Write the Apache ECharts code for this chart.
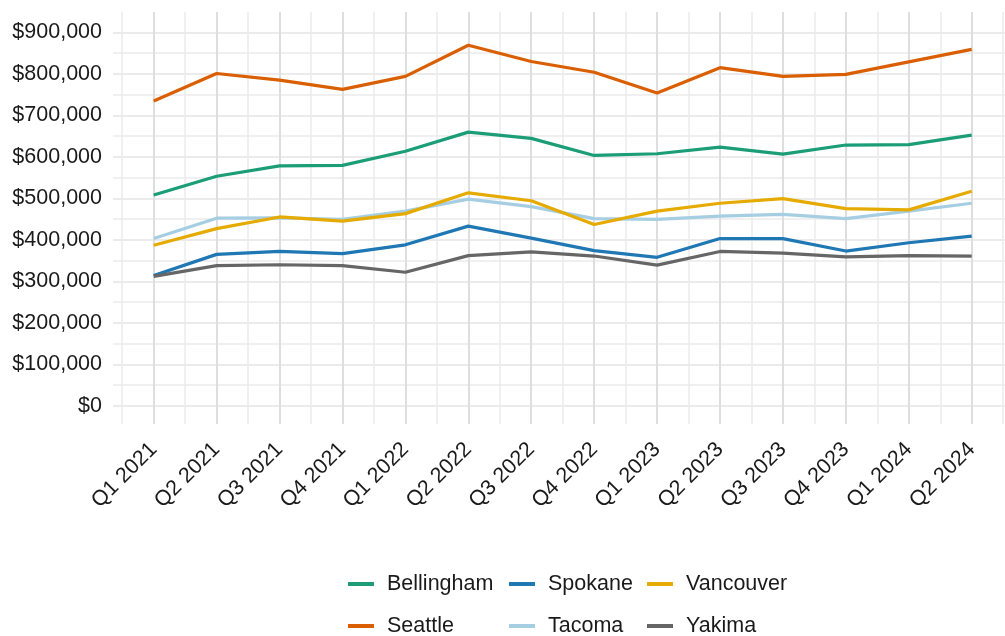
<!DOCTYPE html>
<html lang="en">
<head>
    <meta charset="UTF-8">
    <title>Median home price by city</title>
    <style>
        html, body { margin: 0; padding: 0; background: #fff; }
        #container { width: 1005px; height: 636px; }
    </style>
</head>
<body>
<div id="container"></div>
<script src="https://cdn.jsdelivr.net/npm/echarts@6/dist/echarts.min.js"></script>
<script type="text/javascript">
    var quarters = ['Q1 2021', 'Q2 2021', 'Q3 2021', 'Q4 2021', 'Q1 2022', 'Q2 2022', 'Q3 2022',
        'Q4 2022', 'Q1 2023', 'Q2 2023', 'Q3 2023', 'Q4 2023', 'Q1 2024', 'Q2 2024'];

    var bellingham = [508000, 553000, 578000, 579000, 613000, 659000, 644000, 603000, 607000, 623000, 606000, 628000, 629000, 652000];
    var seattle    = [734000, 800000, 784000, 762000, 793000, 868000, 829000, 803000, 753000, 814000, 793000, 798000, 828000, 858000];
    var spokane    = [314000, 365000, 372000, 367000, 388000, 433000, 404000, 374000, 358000, 403000, 403000, 373000, 393000, 409000];
    var tacoma     = [403000, 452000, 453000, 449000, 469000, 498000, 480000, 451000, 449000, 457000, 461000, 451000, 469000, 488000];
    var vancouver  = [387000, 427000, 455000, 445000, 463000, 513000, 494000, 437000, 469000, 488000, 499000, 475000, 472000, 517000];
    var yakima     = [312000, 338000, 340000, 338000, 322000, 362000, 371000, 361000, 339000, 372000, 368000, 359000, 362000, 361000];

    var cityNames = ['Bellingham', 'Seattle', 'Spokane', 'Tacoma', 'Vancouver', 'Yakima'];
    var cityData = [bellingham, seattle, spokane, tacoma, vancouver, yakima];
    var cityColors = ['#1b9e77', '#d95f02', '#1f78b4', '#a6cee3', '#e6ab02', '#666666'];

    var font = 'Liberation Sans, Arial, sans-serif';

    var chart = echarts.init(document.getElementById('container'), null, {renderer: 'canvas'});

    // one legend per column, two rows each (like the ggplot guide)
    function legendCol(left, names) {
        return {
            orient: 'vertical',
            left: left,
            top: 573,
            width: 150,
            height: 90,
            padding: 0,
            itemWidth: 26,
            itemHeight: 4,
            itemGap: 20,
            icon: 'rect',
            data: names,
            textStyle: {
                fontFamily: font,
                fontSize: 21.5,
                color: '#1a1a1a',
                lineHeight: 22,
                padding: [0, 0, 0, 8]
            }
        };
    }

    var option = {
        animation: false,
        backgroundColor: '#fff',
        grid: [
            // horizontal gridlines and y labels
            {left: 113, right: -10, top: 32.3, bottom: 230, containLabel: false},
            // every vertical gridline (band edges) and the x labels
            {left: 122.2, right: 1.8, top: 12, bottom: 212, containLabel: false},
            // major vertical gridlines and the lines themselves
            {left: 153.7, right: 33.3, top: 12, bottom: 212, containLabel: false}
        ],
        xAxis: [
            {gridIndex: 0, type: 'value', min: 0, max: 1, show: false},
            {
                gridIndex: 1, type: 'category', data: quarters, boundaryGap: true,
                axisLine: {show: false}, axisTick: {show: false},
                splitLine: {show: true, lineStyle: {color: '#ebebeb', width: 1.5}},
                axisLabel: {
                    rotate: 45, margin: 22, interval: 0,
                    fontFamily: font, fontSize: 21.5, color: '#1a1a1a'
                }
            },
            {
                gridIndex: 2, type: 'category', data: quarters, boundaryGap: false,
                axisLine: {show: false}, axisTick: {show: false}, axisLabel: {show: false},
                splitLine: {show: true, interval: 0, showMinLine: true, showMaxLine: true, lineStyle: {color: '#dedede', width: 2}}
            }
        ],
        yAxis: [
            {
                gridIndex: 0, type: 'value', min: 0, max: 900000, interval: 100000,
                axisLine: {show: false}, axisTick: {show: false},
                axisLabel: {
                    margin: 11, fontFamily: font, fontSize: 21.5, color: '#1a1a1a',
                    formatter: function (v) { return '$' + v.toLocaleString('en-US'); }
                },
                splitLine: {show: true, lineStyle: {color: '#ebebeb', width: 2}},
                minorTick: {show: false, splitNumber: 2},
                minorSplitLine: {show: true, lineStyle: {color: '#ebebeb', width: 1.5}}
            },
            {gridIndex: 1, type: 'value', min: 0, max: 1, show: false},
            {gridIndex: 2, type: 'value', min: -43000, max: 948000, show: false}
        ],
        legend: [
            legendCol(348, ['Bellingham', 'Seattle']),
            legendCol(509, ['Spokane', 'Tacoma']),
            legendCol(647, ['Vancouver', 'Yakima'])
        ],
        series: cityNames.map(function (name, i) {
            return {
                name: name,
                type: 'line',
                xAxisIndex: 2,
                yAxisIndex: 2,
                data: cityData[i],
                symbol: 'none',
                color: cityColors[i],
                lineStyle: {width: 3.2, color: cityColors[i]},
                z: 3
            };
        })
    };

    chart.setOption(option);
</script>
</body>
</html>
